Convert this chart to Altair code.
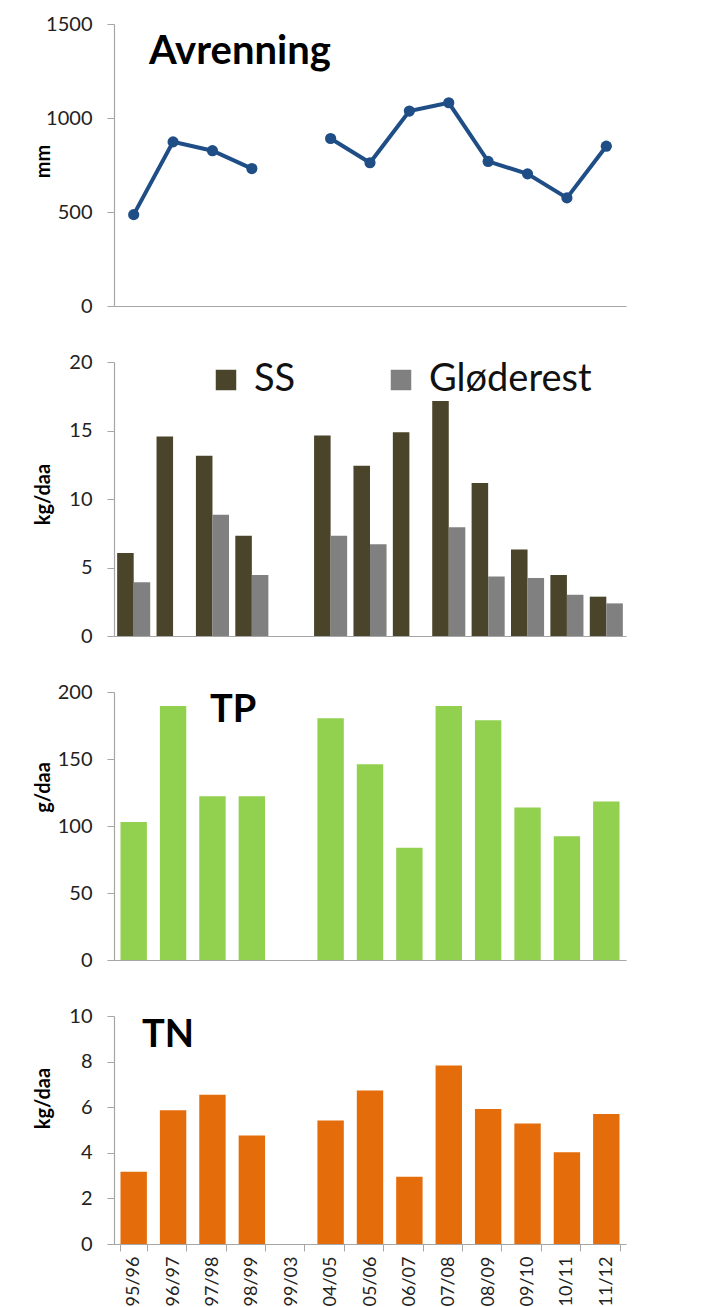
import altair as alt
import pandas as pd

# ---------------- data ----------------
categories = ["95/96", "96/97", "97/98", "98/99", "99/03", "04/05", "05/06",
              "06/07", "07/08", "08/09", "09/10", "10/11", "11/12"]
avrenning_mm = [486, 873, 826, 731, None, 891, 762, 1037, 1081, 769, 703, 575, 850]
ss_kg_daa = [6.05, 14.56, 13.15, 7.32, None, 14.63, 12.42, 14.87, 17.15, 11.17, 6.32, 4.46, 2.87]
glod_kg_daa = [3.92, None, 8.85, 4.46, None, 7.32, 6.69, None, 7.94, 4.34, 4.24, 3.01, 2.38]
tp_g_daa = [103, 189.6, 122.2, 122.2, None, 180.5, 146, 83.7, 189.6, 179, 113.8, 92.3, 118.3]
tn_kg_daa = [3.17, 5.87, 6.55, 4.76, None, 5.42, 6.73, 2.95, 7.83, 5.92, 5.29, 4.02, 5.7]
series_names = ["SS", "Gløderest"]
series_colors = ["#4A452A", "#808080"]

# ---------------- tables ----------------
seg, rows = 0, []
for c, v in zip(categories, avrenning_mm):
    if v is None:
        seg += 1
        continue
    rows.append({"periode": c, "verdi": v, "seg": seg})
df_avr = pd.DataFrame(rows)

rows = []
for c, a, b in zip(categories, ss_kg_daa, glod_kg_daa):
    for name, v in zip(series_names, (a, b)):
        if v is not None:
            rows.append({"periode": c, "serie": name, "verdi": v})
df_ss = pd.DataFrame(rows)

df_tp = pd.DataFrame({"periode": categories, "verdi": tp_g_daa}).dropna()
df_tn = pd.DataFrame({"periode": categories, "verdi": tn_kg_daa}).dropna()

# ---------------- style ----------------
FONT = "Lato"
GRAY = "#A6A6A6"
W = 512
BLUE = "#1F4E86"


def x_hidden():
    return alt.Axis(title=None, labels=False, ticks=False, domain=True)


def y_axis(title, values, ty):
    return alt.Axis(title=title, values=values, format="d", titleX=-71, titleY=ty,
                    titleAngle=270, titleAlign="center", titleBaseline="middle")


def band(pi):
    return alt.Scale(domain=categories, paddingInner=pi, paddingOuter=pi / 2)


# Panel 1: Avrenning
base1 = alt.Chart(df_avr).encode(
    x=alt.X("periode:N", sort=categories,
            scale=alt.Scale(type="point", domain=categories, padding=0.5),
            axis=x_hidden()),
    y=alt.Y("verdi:Q", scale=alt.Scale(domain=[0, 1500], nice=False),
            axis=y_axis("mm", [0, 500, 1000, 1500], 137)),
    detail="seg:N",
)
p1 = alt.layer(
    base1.mark_line(color=BLUE, strokeWidth=4),
    base1.mark_point(filled=True, size=125, color=BLUE, opacity=1),
).properties(
    width=W, height=282,
    title=alt.TitleParams("Avrenning", anchor="start", frame="group", dx=35, dy=62,
                          fontSize=40),
)

# Panel 2: SS / Gløderest
p2 = alt.Chart(df_ss).mark_bar().encode(
    x=alt.X("periode:N", sort=categories, scale=band(0.16), axis=x_hidden()),
    xOffset=alt.XOffset("serie:N", sort=series_names,
                        scale=alt.Scale(domain=series_names, paddingInner=0)),
    y=alt.Y("verdi:Q", scale=alt.Scale(domain=[0, 20], nice=False),
            axis=y_axis("kg/daa", [0, 5, 10, 15, 20], 132)),
    color=alt.Color("serie:N", sort=series_names,
                    scale=alt.Scale(domain=series_names, range=series_colors),
                    legend=alt.Legend(title=None, orient="none", legendX=93, legendY=-1,
                                      direction="horizontal", symbolType="square",
                                      symbolSize=420, symbolStrokeWidth=0, symbolOpacity=1,
                                      labelFontSize=38, labelFont=FONT, labelColor="#111",
                                      labelLimit=0, labelOffset=9, columnPadding=86,
                                      padding=0)),
).properties(width=W, height=274)

# Panel 3: TP
p3 = alt.Chart(df_tp).mark_bar(color="#92D050").encode(
    x=alt.X("periode:N", sort=categories, scale=band(0.33), axis=x_hidden()),
    y=alt.Y("verdi:Q", scale=alt.Scale(domain=[0, 200], nice=False),
            axis=y_axis("g/daa", [0, 50, 100, 150, 200], 95)),
).properties(
    width=W, height=268,
    title=alt.TitleParams("TP", anchor="start", frame="group", dx=96, dy=52),
)

# Panel 4: TN
p4 = alt.Chart(df_tn).mark_bar(color="#E46C0A").encode(
    x=alt.X("periode:N", sort=categories, scale=band(0.33),
            axis=alt.Axis(title=None, labelAngle=270, labelFontSize=18, tickBand="extent",
                          tickSize=7, labelPadding=5, labelColor="#222")),
    y=alt.Y("verdi:Q", scale=alt.Scale(domain=[0, 10], nice=False),
            axis=y_axis("kg/daa", [0, 2, 4, 6, 8, 10], 82)),
).properties(
    width=W, height=228,
    title=alt.TitleParams("TN", anchor="start", frame="group", dx=28, dy=53),
)

chart = alt.vconcat(p1, p2, p3, p4, spacing=56, bounds="flush").resolve_scale(
    y="independent", color="independent"
).resolve_legend(color="independent").properties(
    padding={"left": 25, "top": 6, "right": 5, "bottom": 5}
).configure_axis(
    labelFont=FONT, labelFontSize=20, labelColor="#222", labelPadding=15, tickSize=7,
    titleFont=FONT, titleFontSize=20, titleFontWeight="bold", titleColor="#000",
    domainColor=GRAY, tickColor=GRAY, domainWidth=1.2, grid=False,
).configure_view(stroke=None).configure_title(
    font=FONT, fontSize=38, fontWeight="bold", color="#000"
)

chart.save("out.html", embed_options={"renderer": "svg", "actions": False})
